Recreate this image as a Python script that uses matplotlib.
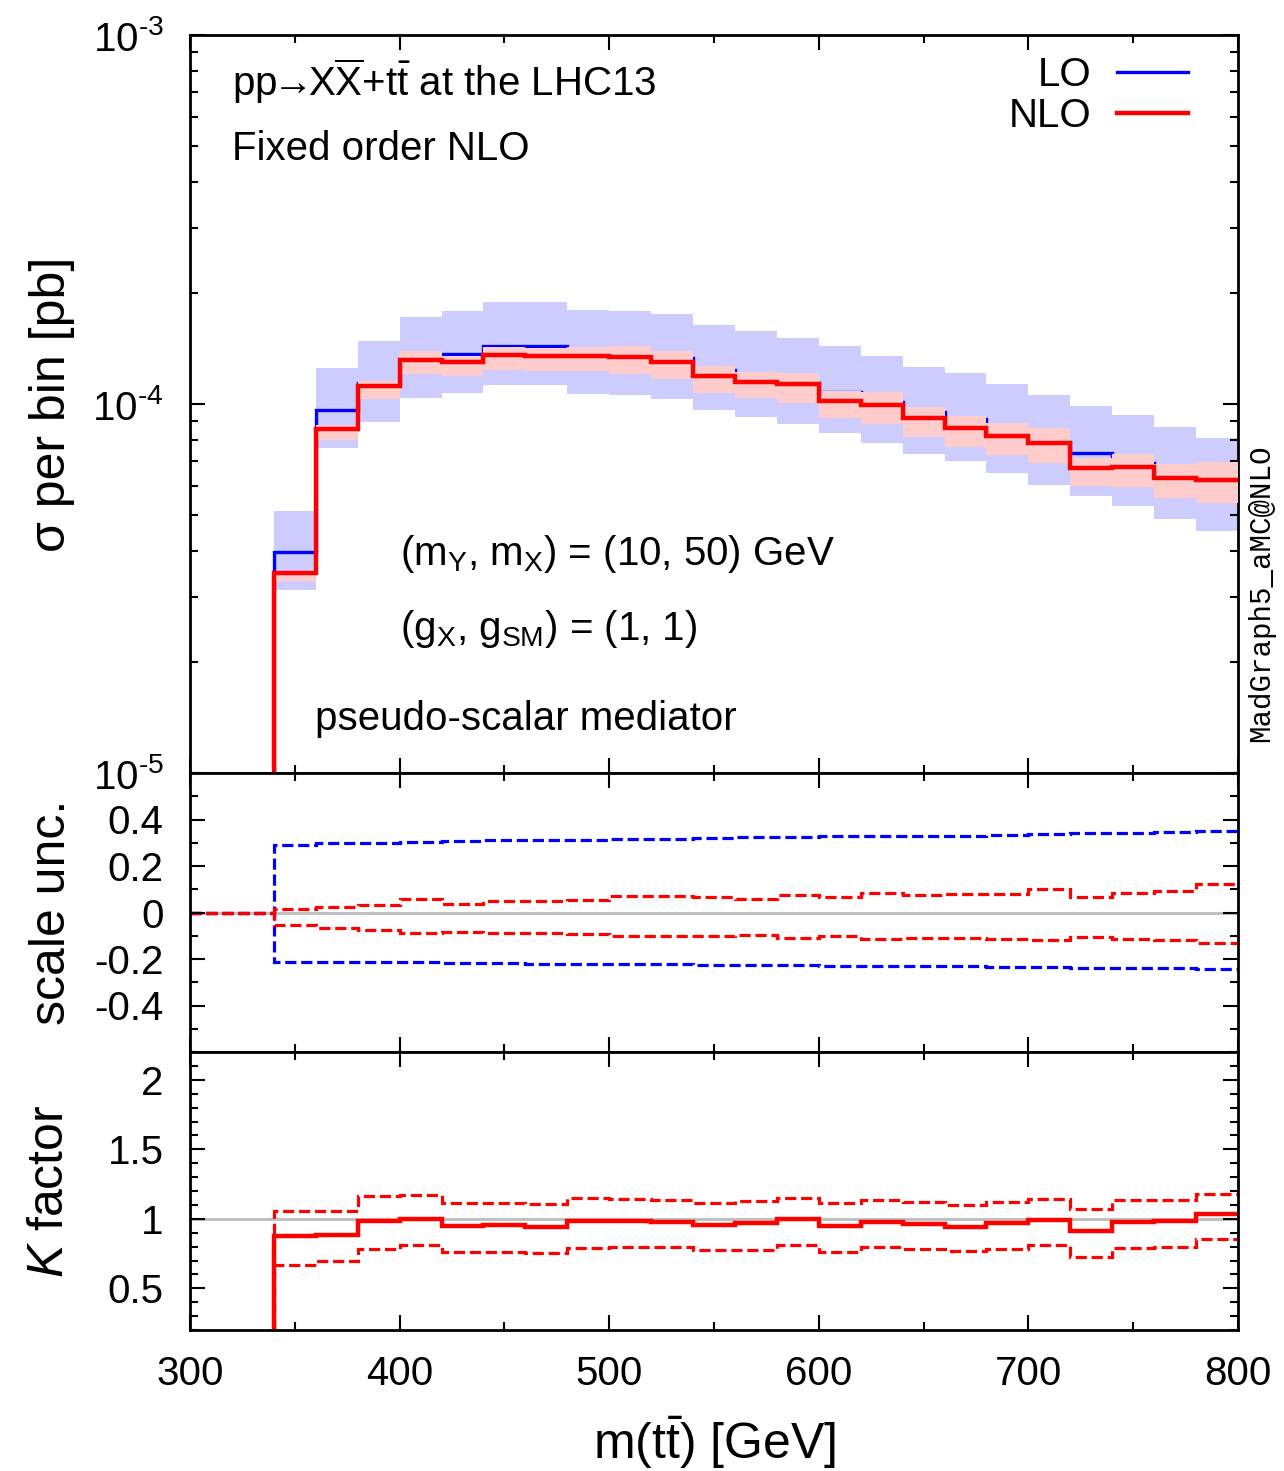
import numpy as np
import matplotlib
matplotlib.use("Agg")
import matplotlib.pyplot as plt
from matplotlib.lines import Line2D
from matplotlib.ticker import MultipleLocator, LogLocator, FixedLocator, NullFormatter

plt.rcParams['font.family'] = ['Liberation Sans', 'DejaVu Sans']
plt.rcParams['mathtext.fontset'] = 'custom'
plt.rcParams['mathtext.rm'] = 'Liberation Sans'
plt.rcParams['mathtext.it'] = 'Liberation Sans:italic'
plt.rcParams['mathtext.bf'] = 'Liberation Sans:bold'

# bin edges of m(tt) in GeV, 20 GeV bins; first two bins (300-340) are empty
edges = np.arange(300, 801, 20)
n_empty = 2

# per bin values for 340 ... 800
lo = [3.96e-5, 9.63e-5, 1.14e-4, 1.32e-4, 1.37e-4, 1.44e-4, 1.44e-4, 1.37e-4,
      1.36e-4, 1.33e-4, 1.24e-4, 1.19e-4, 1.14e-4, 1.08e-4, 1.015e-4, 9.50e-5,
      9.11e-5, 8.48e-5, 7.90e-5, 7.38e-5, 6.94e-5, 6.43e-5, 5.99e-5]
nlo = [3.49e-5, 8.56e-5, 1.12e-4, 1.32e-4, 1.30e-4, 1.36e-4, 1.35e-4, 1.35e-4,
       1.34e-4, 1.30e-4, 1.19e-4, 1.15e-4, 1.13e-4, 1.02e-4, 9.94e-5, 9.14e-5,
       8.59e-5, 8.20e-5, 7.85e-5, 6.70e-5, 6.76e-5, 6.31e-5, 6.21e-5]

# relative scale uncertainties
lo_up = [0.292, 0.297, 0.300, 0.304, 0.307, 0.310, 0.311, 0.313, 0.316, 0.317, 0.320, 0.323,
         0.325, 0.327, 0.328, 0.330, 0.331, 0.335, 0.338, 0.341, 0.344, 0.346, 0.350]
lo_dn = [-0.211, -0.213, -0.214, -0.215, -0.217, -0.219, -0.220, -0.221, -0.222, -0.223, -0.224, -0.225,
         -0.226, -0.228, -0.229, -0.230, -0.232, -0.234, -0.236, -0.238, -0.239, -0.240, -0.242]
nlo_up = [0.013, 0.023, 0.032, 0.057, 0.036, 0.049, 0.049, 0.054, 0.070, 0.070, 0.068, 0.060,
          0.077, 0.065, 0.083, 0.074, 0.080, 0.080, 0.100, 0.067, 0.086, 0.093, 0.122]
nlo_dn = [-0.052, -0.066, -0.077, -0.089, -0.082, -0.089, -0.089, -0.092, -0.099, -0.099, -0.099, -0.096,
          -0.108, -0.100, -0.112, -0.110, -0.110, -0.112, -0.120, -0.106, -0.116, -0.120, -0.132]

# K factor and its band
k = [0.878, 0.885, 0.986, 1.002, 0.950, 0.955, 0.940, 0.983, 0.986, 0.979, 0.957, 0.969,
     0.995, 0.947, 0.979, 0.962, 0.943, 0.967, 0.993, 0.909, 0.974, 0.981, 1.036]
k_up = [1.058, 1.058, 1.165, 1.170, 1.115, 1.115, 1.106, 1.149, 1.141, 1.137, 1.115, 1.127,
        1.153, 1.112, 1.132, 1.122, 1.098, 1.120, 1.146, 1.067, 1.134, 1.137, 1.180]
k_dn = [0.669, 0.693, 0.784, 0.813, 0.758, 0.762, 0.752, 0.789, 0.796, 0.796, 0.777, 0.777,
        0.809, 0.758, 0.796, 0.782, 0.770, 0.784, 0.811, 0.722, 0.787, 0.796, 0.856]


def pad(v):
    return np.r_[np.zeros(n_empty), np.asarray(v)]


lo_a, nlo_a = np.array(lo), np.array(nlo)
band_edges = edges[n_empty:]

fig = plt.figure(figsize=(12.84, 14.71), dpi=100)
L, R = 190 / 1284, 1238 / 1284
def fy(p):
    return 1 - p / 1471
ax1 = fig.add_axes([L, fy(773), R - L, fy(35) - fy(773)])
ax2 = fig.add_axes([L, fy(1052), R - L, fy(773) - fy(1052)], sharex=ax1)
ax3 = fig.add_axes([L, fy(1330), R - L, fy(1052) - fy(1330)], sharex=ax1)

blue = '#0000ff'
red = '#ff0000'
tick_fs = 29
lab_fs = 36
txt_fs = 29
dash = (3.5, 1.5)
dlw = 2.3

# main panel: blue band, LO line, red band on top, NLO line
ax1.set_yscale('log')
ax1.stairs(lo_a * (1 + np.array(lo_up)), band_edges, baseline=lo_a * (1 + np.array(lo_dn)),
           fill=True, color='#ccccff', lw=0, zorder=1)
ax1.stairs(pad(lo), edges, baseline=None, color=blue, lw=2.4, zorder=2)
ax1.stairs(nlo_a * (1 + np.array(nlo_up)), band_edges, baseline=nlo_a * (1 + np.array(nlo_dn)),
           fill=True, color='#ffcccc', lw=0, zorder=3)
ax1.stairs(pad(nlo), edges, baseline=None, color=red, lw=3.2, zorder=4)
ax1.set_ylim(1e-5, 1e-3)
ax1.set_xlim(300, 800)
ax1.yaxis.set_major_locator(FixedLocator([1e-5, 1e-4, 1e-3]))
ax1.yaxis.set_minor_locator(LogLocator(base=10, subs=np.arange(2, 10)))
ax1.yaxis.set_minor_formatter(NullFormatter())
ax1.set_yticklabels([r'10$^{\text{-5}}$', r'10$^{\text{-4}}$', r'10$^{\text{-3}}$'])
ax1.set_ylabel('σ per bin [pb]', fontsize=lab_fs)
ax1.yaxis.set_label_coords(-0.110, 0.5)

handles = [Line2D([], [], color=blue, lw=2.4), Line2D([], [], color=red, lw=3.2)]
ax1.legend(handles, ['LO', 'NLO'], loc='upper right', bbox_to_anchor=(0.952, 0.972),
           markerfirst=False, frameon=False, fontsize=txt_fs, handlelength=1.75,
           handletextpad=0.65, labelspacing=0.08, borderaxespad=0, borderpad=0)

ax1.text(0.040, 0.917, r'pp$\!\!\rightarrow\!\!$X$\overline{\mathrm{X}}$+t$\bar{\mathrm{t}}$ at the LHC13',
         transform=ax1.transAxes, fontsize=txt_fs, va='baseline')
ax1.text(0.040, 0.831, 'Fixed order NLO', transform=ax1.transAxes, fontsize=txt_fs, va='baseline')
ax1.text(0.200, 0.282, r'(m$_\mathrm{Y}$, m$_\mathrm{X}$) = (10, 50) GeV',
         transform=ax1.transAxes, fontsize=txt_fs, va='baseline')
ax1.text(0.200, 0.180, r'(g$_\mathrm{X}$, g$_\mathrm{SM}$) = (1, 1)',
         transform=ax1.transAxes, fontsize=txt_fs, va='baseline')
ax1.text(0.119, 0.058, 'pseudo-scalar mediator', transform=ax1.transAxes, fontsize=txt_fs, va='baseline')

# scale uncertainty panel
ax2.axhline(0, color='#c0c0c0', lw=2.2, zorder=1)
ax2.stairs(pad(lo_up), edges, baseline=None, color=blue, lw=dlw, ls=(0, dash))
ax2.stairs(pad(lo_dn), edges, baseline=None, color=blue, lw=dlw, ls=(0, dash))
ax2.stairs(pad(nlo_up), edges, baseline=None, color=red, lw=dlw, ls=(0, dash))
ax2.stairs(pad(nlo_dn), edges, baseline=None, color=red, lw=dlw, ls=(0, dash))
ax2.set_ylim(-0.6, 0.6)
ax2.yaxis.set_major_locator(FixedLocator([-0.4, -0.2, 0, 0.2, 0.4]))
ax2.yaxis.set_minor_locator(MultipleLocator(0.1))
ax2.set_yticklabels(['-0.4', '-0.2', '0', '0.2', '0.4'])
ax2.set_ylabel('scale unc.', fontsize=lab_fs)
ax2.yaxis.set_label_coords(-0.110, 0.5)

# K factor panel
ax3.axhline(1, color='#c0c0c0', lw=2.2, zorder=1)
ax3.stairs(pad(k), edges, baseline=None, color=red, lw=3.2)
ax3.stairs(pad(k_up), edges, baseline=None, color=red, lw=dlw, ls=(0, dash))
ax3.stairs(pad(k_dn), edges, baseline=None, color=red, lw=dlw, ls=(0, dash))
ax3.set_ylim(0.2, 2.2)
ax3.yaxis.set_major_locator(FixedLocator([0.5, 1, 1.5, 2]))
ax3.yaxis.set_minor_locator(MultipleLocator(0.1))
ax3.set_yticklabels(['0.5', '1', '1.5', '2'])
ax3.set_ylabel(r'$\mathit{K}$ factor', fontsize=lab_fs)
ax3.yaxis.set_label_coords(-0.112, 0.5)
ax3.set_xlabel(r'm(t$\bar{\mathrm{t}}$) [GeV]', fontsize=lab_fs)
ax3.xaxis.set_label_coords(0.5, -0.305)

for ax in (ax1, ax2, ax3):
    ax.xaxis.set_major_locator(MultipleLocator(100))
    ax.xaxis.set_minor_locator(MultipleLocator(50))
    ax.tick_params(which='both', direction='in', top=True, right=True, labelsize=tick_fs, width=1.5)
    ax.tick_params(which='major', length=11)
    ax.tick_params(which='minor', length=6)
    ax.tick_params(axis='y', pad=19)
    ax.tick_params(axis='x', pad=18)
    for s in ax.spines.values():
        s.set_linewidth(2.0)
ax1.tick_params(labelbottom=False)
ax2.tick_params(labelbottom=False)
ax3.set_xlim(300, 800)

fig.text(0.982, 0.597, 'MadGraph5_aMC@NLO', rotation=90, fontsize=21,
         family='Liberation Mono', ha='center', va='center')

fig.savefig('out.png', dpi=100)
